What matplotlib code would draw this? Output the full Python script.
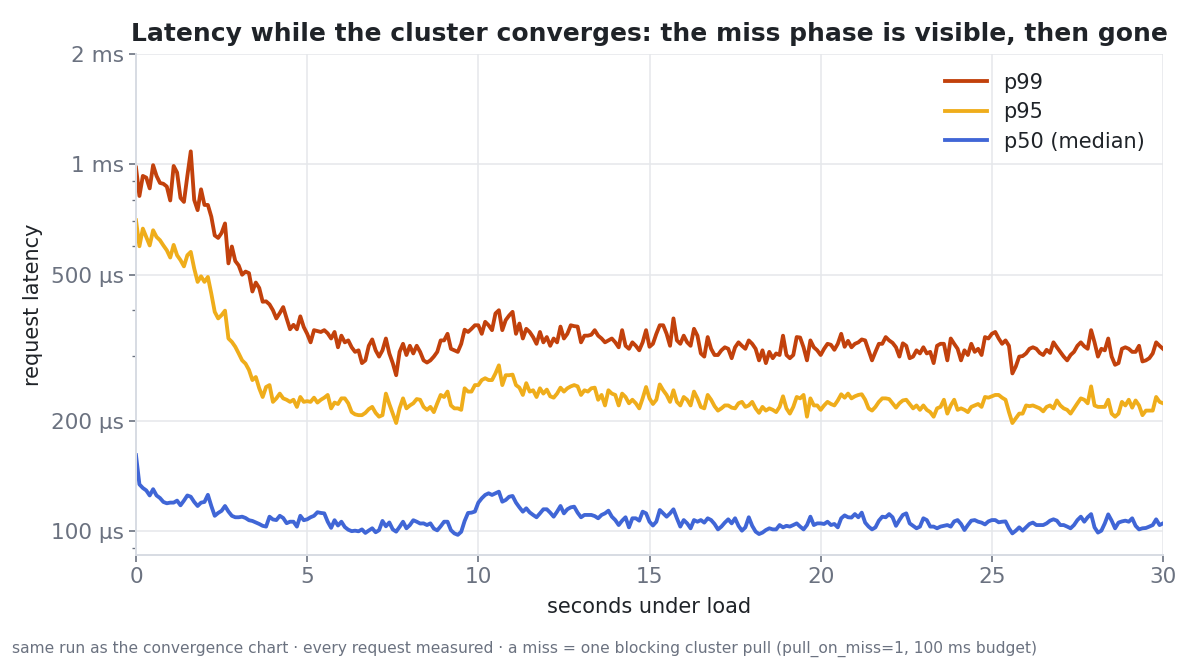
import matplotlib
matplotlib.use("Agg")
import matplotlib.pyplot as plt
from matplotlib.ticker import FixedLocator, FixedFormatter, LogLocator, NullFormatter
import numpy as np

# latency percentiles in microseconds, one sample every 0.1 s (0.0 .. 30.0 s)
SAMPLE_STEP = 0.1

p99 = [
    980, 820, 930, 920, 860, 995, 930, 890, 885, 870,
    797, 990, 950, 810, 790, 930, 1085, 800, 750, 855,
    775, 775, 720, 640, 630, 650, 690, 537, 597, 545,
    530, 500, 510, 505, 450, 476, 460, 422, 423, 415,
    400, 380, 393, 408, 380, 355, 365, 355, 385, 360,
    345, 327, 353, 351, 349, 353, 346, 335, 349, 317,
    341, 327, 331, 317, 308, 311, 287, 292, 320, 333,
    311, 299, 311, 335, 305, 287, 266, 308, 324, 302,
    320, 305, 320, 308, 292, 288, 292, 299, 308, 331,
    331, 345, 314, 311, 308, 324, 354, 349, 356, 364,
    364, 345, 372, 364, 353, 392, 400, 353, 376, 387,
    396, 345, 368, 335, 356, 349, 338, 324, 349, 327,
    338, 320, 335, 327, 361, 335, 345, 364, 362, 361,
    327, 341, 341, 343, 353, 341, 335, 327, 331, 335,
    327, 317, 353, 320, 314, 327, 320, 311, 327, 353,
    318, 324, 345, 364, 364, 345, 320, 380, 331, 324,
    341, 327, 320, 356, 341, 305, 299, 338, 314, 302,
    302, 311, 317, 314, 296, 317, 327, 320, 314, 331,
    324, 314, 292, 311, 287, 308, 296, 305, 302, 341,
    302, 296, 302, 338, 337, 317, 292, 331, 317, 311,
    302, 314, 324, 322, 312, 324, 345, 318, 330, 317,
    324, 327, 333, 331, 311, 292, 308, 324, 324, 338,
    331, 326, 317, 299, 325, 320, 296, 299, 311, 305,
    317, 305, 308, 287, 320, 324, 324, 292, 335, 324,
    314, 292, 311, 302, 324, 308, 314, 302, 338, 335,
    345, 349, 335, 324, 331, 320, 269, 281, 299, 300,
    305, 314, 317, 314, 306, 302, 312, 306, 327, 317,
    308, 299, 292, 302, 308, 320, 327, 319, 314, 353,
    327, 299, 314, 311, 335, 299, 284, 287, 314, 317,
    314, 308, 308, 320, 290, 292, 296, 305, 327, 320,
    314,
]

p95 = [
    704, 598, 668, 634, 601, 661, 634, 621, 601, 583,
    557, 603, 565, 548, 527, 565, 577, 520, 478, 495,
    478, 493, 444, 396, 380, 388, 399, 335, 328, 318,
    305, 292, 286, 275, 258, 263, 245, 232, 247, 250,
    225, 230, 237, 230, 228, 225, 228, 218, 232, 225,
    226, 225, 231, 224, 228, 231, 235, 216, 224, 222,
    230, 230, 223, 211, 208, 207, 207, 210, 215, 218,
    210, 205, 207, 237, 222, 209, 197, 216, 230, 216,
    220, 223, 229, 228, 218, 214, 218, 211, 223, 235,
    232, 240, 220, 216, 216, 214, 245, 240, 240, 250,
    250, 258, 261, 258, 258, 269, 283, 250, 266, 266,
    267, 250, 246, 235, 253, 240, 242, 232, 245, 237,
    243, 233, 231, 237, 246, 240, 245, 248, 250, 248,
    235, 242, 240, 245, 246, 228, 235, 220, 242, 237,
    235, 220, 237, 232, 223, 228, 223, 216, 230, 247,
    230, 222, 228, 251, 242, 235, 225, 242, 225, 220,
    232, 228, 220, 240, 230, 218, 216, 235, 228, 219,
    213, 216, 220, 220, 217, 216, 223, 225, 218, 220,
    225, 216, 210, 218, 213, 216, 214, 211, 218, 233,
    216, 209, 218, 232, 230, 235, 205, 230, 220, 220,
    214, 220, 225, 222, 220, 227, 236, 231, 237, 230,
    233, 235, 236, 228, 216, 213, 218, 225, 230, 230,
    229, 223, 217, 223, 227, 228, 222, 216, 220, 214,
    220, 214, 211, 205, 216, 218, 228, 209, 220, 228,
    214, 216, 214, 211, 218, 220, 222, 218, 232, 231,
    233, 235, 235, 231, 228, 211, 197, 203, 209, 209,
    220, 219, 220, 218, 216, 212, 218, 220, 216, 227,
    220, 216, 214, 209, 216, 223, 230, 228, 223, 248,
    220, 218, 218, 218, 228, 209, 205, 209, 225, 220,
    228, 217, 227, 220, 207, 213, 213, 213, 232, 225,
    223,
]

p50 = [
    161, 134, 131, 129, 125, 130, 125, 123, 120, 119,
    119.5, 119.5, 121, 117.5, 121, 125, 124, 120, 117, 119.5,
    120, 125.5, 117, 110, 112, 113.5, 117, 113, 110, 109,
    109, 109.4, 108.5, 107, 106.5, 105.5, 104.5, 103.3, 102.8, 109.4,
    107.5, 107.1, 110, 108.5, 105, 106, 106, 102.8, 110, 107,
    107.6, 109, 110, 112.5, 112, 111.7, 106, 102, 107, 103.5,
    106, 102.5, 100.8, 99.9, 100.2, 99.8, 101, 98.8, 100.3, 101.7,
    99.2, 100.5, 106.5, 103, 105.5, 101, 99.6, 102.6, 106, 101.7,
    103.8, 107, 106, 104.8, 104.9, 103.8, 104.9, 101.5, 100.4, 103,
    106, 106, 100.5, 98.5, 97.6, 99.5, 106.5, 112, 112.2, 113,
    119.5, 122.8, 125.4, 126.7, 125.4, 126.7, 128, 120.2, 121.5, 124,
    124.6, 119.5, 116, 112.9, 115.3, 112.4, 110.6, 109, 111.7, 114.6,
    114.6, 112.2, 109.4, 112.9, 117, 111.7, 114.6, 116, 116.5, 112.2,
    109, 110.6, 110.6, 110.6, 109.8, 108.3, 110.6, 111.7, 113.6, 109.4,
    107.1, 103.8, 106.7, 109, 102.3, 108.3, 108.3, 106.7, 112.9, 111.7,
    106, 103.5, 106, 114.1, 111.7, 109.4, 111.7, 114.6, 108.3, 102.8,
    107.1, 104.9, 101.7, 107.1, 106, 107.1, 105.4, 108.3, 107.1, 104.5,
    101, 102.8, 105.4, 107.6, 104.9, 108.3, 103.3, 100.2, 102.3, 109,
    103.3, 99.6, 98.1, 99, 100.6, 101.7, 101, 101, 103.8, 102.3,
    103.3, 102.8, 103.8, 104.9, 102.8, 101, 103.8, 109.4, 103.8, 104.9,
    104.9, 104.5, 106, 103.8, 104.5, 102.3, 108.3, 110.3, 109, 108.8,
    111.2, 109, 112.2, 105.4, 102.8, 101, 102.3, 106.7, 109.4, 109,
    111.2, 109, 103.3, 107.1, 110.6, 111.7, 104.9, 103.3, 101.7, 102.8,
    108.3, 107.1, 102.8, 102.8, 101.7, 102.8, 103.3, 103.8, 102.8, 106.2,
    107.1, 104.5, 100.6, 103.8, 106.7, 107.1, 106, 105.4, 104.2, 106.2,
    107.1, 107.1, 105.6, 106, 106.2, 101.7, 98.5, 100.2, 102.3, 100.2,
    102.3, 104.5, 105.4, 103.8, 103.8, 103.8, 104.9, 106.7, 107.6, 106.7,
    103.8, 103.8, 102.8, 101.7, 103.8, 107.1, 109.4, 106, 109, 111.2,
    102.3, 99, 100.2, 104.9, 111, 106.7, 101.7, 105.4, 106.2, 106.7,
    106, 108.3, 103.3, 101, 101.7, 101.9, 102.8, 103.8, 107.6, 103.8,
    104.9,
]

series_names = ["p99", "p95", "p50 (median)"]
ytick_values = [100, 200, 500, 1000, 2000]
ytick_labels = ["100 µs", "200 µs", "500 µs", "1 ms", "2 ms"]
xtick_values = [0, 5, 10, 15, 20, 25, 30]

TITLE = "Latency while the cluster converges: the miss phase is visible, then gone"
FOOTER = ("same run as the convergence chart · every request measured · "
          "a miss = one blocking cluster pull (pull_on_miss=1, 100 ms budget)")

colors = ["#c2410c", "#efad1b", "#4066d6"]
GRID = "#e5e7eb"
MUTED = "#6b7280"
INK = "#1f2328"

seconds = np.arange(len(p99)) * SAMPLE_STEP

fig = plt.figure(figsize=(10, 5.5), dpi=120)
ax = fig.add_axes([136 / 1200, 105 / 660, 1027 / 1200, 501 / 660])

for vals, name, col in zip([p99, p95, p50], series_names, colors):
    ax.plot(seconds, vals, color=col, lw=2.3, label=name, solid_joinstyle="round")

ax.set_yscale("log")
ax.set_ylim(86, 2000)
ax.set_xlim(0, 30)
ax.yaxis.set_major_locator(FixedLocator(ytick_values))
ax.yaxis.set_major_formatter(FixedFormatter(ytick_labels))
ax.yaxis.set_minor_locator(LogLocator(base=10, subs=np.arange(2, 10)))
ax.yaxis.set_minor_formatter(NullFormatter())
ax.set_xticks(xtick_values)

ax.set_axisbelow(True)
ax.grid(True, which="major", color=GRID, lw=0.9)
for side in ["top", "right"]:
    ax.spines[side].set_visible(False)
for side in ["left", "bottom"]:
    ax.spines[side].set_color("#d8dce3")
    ax.spines[side].set_linewidth(1.2)

ax.tick_params(axis="both", which="major", length=4, width=1, color=MUTED,
               labelcolor=MUTED, labelsize=13, pad=3)
ax.tick_params(axis="y", which="minor", length=2.5, width=0.8, color=MUTED)

ax.set_title(TITLE, fontsize=15, fontweight="bold", color=INK, pad=8)
ax.set_xlabel("seconds under load", fontsize=12.5, color=INK, labelpad=6)
ax.set_ylabel("request latency", fontsize=12.5, color=INK, labelpad=5)

leg = ax.legend(loc="upper right", frameon=False, fontsize=12.5,
                handlelength=2.0, handletextpad=0.8, labelspacing=0.45)
for txt in leg.get_texts():
    txt.set_color(INK)

fig.text(12 / 1200, 1 - 649 / 660, FOOTER, fontsize=9.3, color=MUTED, va="center")

fig.savefig("out.png", dpi=120)
